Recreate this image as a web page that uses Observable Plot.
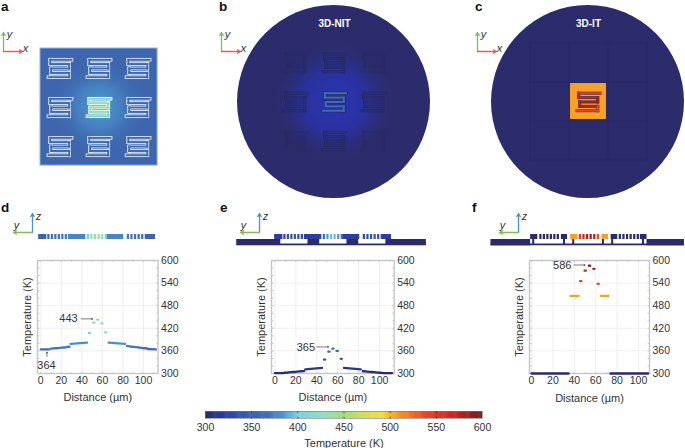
<!DOCTYPE html>
<html><head><meta charset="utf-8">
<script src="https://cdn.jsdelivr.net/npm/d3@7"></script>
<script src="https://cdn.jsdelivr.net/npm/@observablehq/plot@0.6"></script>
<style>
html,body{margin:0;padding:0;background:#fff}
#page{position:relative;width:685px;height:448px;overflow:hidden;font-family:"Liberation Sans",Arial,sans-serif;color:#333}
#page svg{position:absolute;overflow:visible;background:transparent;max-width:none}
.letter{position:absolute;font-weight:bold;font-size:13.5px;line-height:.8;color:#111}
</style></head><body>
<svg width="0" height="0" style="position:absolute">
<defs>
<radialGradient id="glowA"><stop offset="0" stop-color="#4c9bd0"/><stop offset="0.45" stop-color="#4680bf"/><stop offset="1" stop-color="#3d66ae" stop-opacity="0"/></radialGradient>
<radialGradient id="glowB"><stop offset="0" stop-color="#2a34b0"/><stop offset="0.5" stop-color="#2a32a0"/><stop offset="1" stop-color="#2c2c6c" stop-opacity="0"/></radialGradient>
</defs></svg>
<div id="page"></div>
<script>
// ---- colour scale
const scaleT = [300,320,350,365,385,400,430,450,490,505,540,565,600];
const scaleC = ["#2b2a6b","#2b3ca0","#3a64ae","#3e6eb6","#4a9ad4","#7ed0e2","#8fe0c0","#a4dc78","#f0e040","#f8a422","#e8421f","#d4281e","#6e1f20"];

// ---- charts: dash extents (um) and temperatures (K)
const dX1 = [0,10,14,18,22,25.5,29,46.8,51,54.9,58.8,62.7,66,84,88,92,96,99.5,104];
const dX2 = [8.4,13,17,21,24.5,28,45,48,52.2,56.1,60,63.9,82,87,91,95,98.5,103,112];
const dT1 = [364,366,367,368,369,370.5,378.5,407.5,435,443,433,409,382,373,371,370,368.5,367,365];
const dT2 = [364,366.5,367.5,368.5,369.5,371,382,407.5,435,443,433,409,378.5,372,370.5,369.5,368,367,364];

const eX1 = [0,9,13,17,21,25,29,46.9,51,54.8,58.9,62.8,66,84,88,92,96,100,103];
const eX2 = [8,12,16,20,24,28,45,48.1,52.2,56,60.1,64,82,87,91,95,99,102.5,112];
const eT1 = [301,302,303,304,305,306,311,337,358,366,360,339,315,306,305,304,303,302,301];
const eT2 = [301,302.5,303.5,304.5,305.5,306.5,315,337,358,366,360,339,311,305.5,304.5,303.5,302.5,301.5,301];

const fX1 = [0,9,13,17,21,26,36.4,45.4,49.6,53.6,57.7,61.7,64.8,73.8,82,87,92,97,102];
const fX2 = [8,12,16,20,25,34.6,44,46.6,50.8,54.8,58.9,62.9,72,81,86,91,96,101,109];
const fT1 = [300,300,300,300,300,300,506,545,573,586,578,538,506,300,300,300,300,300,300];
const fT2 = fT1;

// ---- cross-section strips: bar and block extents (um), with temperatures (K)
const barCenters = [
  [10,13.4,16.8,20.2,23.6,27],
  [48.5,52,55.5,59,62.5,66],
  [87.5,91,94.5,98,101.5,105]
];
const dStripBlocks = [[0,8,352],[29,46,376],[67,83,376],[105,114,352]];
const dStripBars = [[362,364,365,367,368,370],[405,430,440,442,432,407],[370,368,367,365,364,362]];
const eStripBlocks = [[0,8,322],[29,46,322],[67,83,322],[105,114,322]];
const eStripBars = [[330,335,340,340,335,330],[365,385,395,395,385,365],[330,335,340,340,335,330]];
const fStripBlocks = [[0,7,300],[30,36,300],[39,46,506],[69.5,76,506],[78.5,85,300],[107,113.5,300]];
const fStripBars = [[300,300,300,300,300,300],[545,565,580,586,578,538],[300,300,300,300,300,300]];
const pedestals = [3,33,42,71,80,110];

// ---- heater serpentine (unit cell) and array pitch (um)
const serpX = [1,.08,.08,.9,.9,.12,.12,.9,.9,0];
const serpY = [.14,.14,.33,.33,.52,.52,.71,.71,.9,.9];
const cellSide = 22.4;
const pitch = 38;
const gridIdx = [-1,0,1];
const aRowT = [405,430,440,430,408];
const nitRowT = [365,365,365,365,365];
const itRowT = [545,572,586,577,538];

const colorOpt = {type:"linear",domain:scaleT,range:scaleC,interpolate:"rgb",clamp:true};
const page = document.getElementById("page");
const place = (el,left,top)=>{el.style.left=left+"px";el.style.top=top+"px";page.appendChild(el);return el};

function serp(cx,cy,temps){
  const out=[];
  for(let i=0;i<serpX.length-1;i++){
    const T=temps[Math.floor((i+1)/2)];
    out.push({x1:cx+cellSide*(serpX[i]-.5),x2:cx+cellSide*(serpX[i+1]-.5),
      y1:cy+cellSide*(.5-serpY[i]),y2:cy+cellSide*(.5-serpY[i+1]),T});
  }
  return out;
}
const neighbours = gridIdx.flatMap(i=>gridIdx.map(j=>[i,j])).filter(([i,j])=>i||j);
const linkOpt = (extra)=>({x1:"x1",x2:"x2",y1:"y1",y2:"y2",strokeLinecap:"square",...extra});

function topPlot(left,top,size,marks){
  const half=size/2/1.027;
  return place(Plot.plot({width:size,height:size,margin:0,
    x:{axis:null,domain:[-half,half]},y:{axis:null,domain:[-half,half]},
    color:colorOpt,marks}),left,top);
}

// panel a
(function(){
  const half=57;
  const segN=neighbours.flatMap(([i,j])=>serp(i*pitch,j*pitch,[358,358,358,358,358]));
  const segC=serp(0,0,aRowT);
  topPlot(39.5,48,117.1,[
    Plot.rect([{}],{x1:-half,x2:half,y1:-half,y2:half,fill:"#3d66ae",stroke:"#8cb0de",strokeWidth:1}),
    Plot.dot([{}],{x:0,y:0,r:48,fill:"url(#glowA)",stroke:"none"}),
    Plot.link(segN.concat(segC),linkOpt({stroke:"white",strokeWidth:3.6})),
    Plot.link(segN,linkOpt({stroke:"T",strokeWidth:2.1})),
    Plot.link(segC,linkOpt({stroke:"T",strokeWidth:2.1}))
  ]);
})();

// panel b
(function(){
  const near=neighbours.filter(([i,j])=>!(i&&j)).flatMap(([i,j])=>serp(i*pitch,j*pitch,[312,312,312,312,312]));
  const far=neighbours.filter(([i,j])=>i&&j).flatMap(([i,j])=>serp(i*pitch,j*pitch,[305,305,305,305,305]));
  const centre=serp(0,0,nitRowT);
  topPlot(234,1,200,[
    Plot.dot([{}],{x:0,y:0,r:96.5,dx:-1,fill:"#2c2c6c",stroke:"none"}),
    Plot.dot([{}],{x:0,y:0,r:62,fill:"url(#glowB)",stroke:"none"}),
    Plot.link(far,linkOpt({stroke:"#25265c",strokeOpacity:.25,strokeWidth:3.2})),
    Plot.link(near,linkOpt({stroke:"#25265c",strokeOpacity:.6,strokeWidth:3.2})),
    Plot.link(near,linkOpt({stroke:"T",strokeOpacity:.4,strokeWidth:1.5})),
    Plot.link(centre,linkOpt({stroke:"#262a6a",strokeWidth:3.4})),
    Plot.link(centre,linkOpt({stroke:"T",strokeWidth:2})),
    Plot.text(["3D-NIT"],{x:0,y:76,text:d=>d,fill:"white",fontWeight:"bold",fontSize:10,fontFamily:"Liberation Sans"})
  ]);
})();

// panel c
(function(){
  const centre=serp(0,0,itRowT);
  const lines=[-57,-19,19,57];
  topPlot(488,1,200,[
    Plot.dot([{}],{x:0,y:0,r:96.5,dx:-1,fill:"#2c2c6c",stroke:"none"}),
    Plot.ruleX(lines,{y1:-57,y2:57,stroke:"#25265c",strokeOpacity:.35,strokeWidth:.8}),
    Plot.ruleY(lines,{x1:-57,x2:57,stroke:"#25265c",strokeOpacity:.35,strokeWidth:.8}),
    Plot.rect([{}],{x1:-17.5,x2:17.5,y1:-17.5,y2:17.5,fill:506}),
    Plot.link(centre,linkOpt({stroke:"#3b3358",strokeWidth:3})),
    Plot.link(centre,linkOpt({stroke:"T",strokeWidth:2})),
    Plot.text(["3D-IT"],{x:0,y:76,text:d=>d,fill:"white",fontWeight:"bold",fontSize:10,fontFamily:"Liberation Sans"})
  ]);
})();

// coordinate triads
function triad(left,top,hName,hColor,hSign,hLabelOff,vLabelOff){
  const hc=hColor, vc=hName==="x"?"#86b95a":"#4e8ed0", vName=hName==="x"?"y":"z";
  place(Plot.plot({width:60,height:40,margin:0,
    x:{axis:null,domain:[-30,30]},y:{axis:null,domain:[-10,30]},
    marks:[
      Plot.arrow([{}],{x1:0,y1:0,x2:0,y2:19,stroke:vc,strokeWidth:1.3,bend:0,headLength:4}),
      Plot.arrow([{}],{x1:0,y1:0,x2:hSign*19,y2:0,stroke:hc,strokeWidth:1.3,bend:0,headLength:4}),
      Plot.text([vName],{x:vLabelOff[0],y:vLabelOff[1],text:d=>d,fontStyle:"italic",fontSize:11,fill:"#333",fontFamily:"Liberation Sans"}),
      Plot.text([hName],{x:hLabelOff[0],y:hLabelOff[1],text:d=>d,fontStyle:"italic",fontSize:11,fill:"#333",fontFamily:"Liberation Sans"})
    ]}),left-30,top-30);
}
triad(3,51,"x","#e4614f",1,[22,3],[6,17]);
triad(221,51,"x","#e4614f",1,[22,3],[6,17]);
triad(477,51,"x","#e4614f",1,[22,3],[6,17]);
triad(32,232,"y","#86b95a",-1,[-16,7],[6,16]);
triad(259,232,"y","#86b95a",-1,[-16,7],[6,16]);
triad(518,232,"y","#86b95a",-1,[-16,7],[6,16]);

// strips
function strip(origin,blocks,bars,marks0,marks1){
  const bar=barCenters.flatMap((c,i)=>c.map((x,k)=>({x,T:bars[i][k]})));
  place(Plot.plot({width:202,height:16,margin:0,
    x:{axis:null,domain:[-45,152]},y:{axis:null,domain:[0,16]},color:colorOpt,
    marks:[...marks0,
      Plot.rect(bar,{x1:d=>d.x-1.1,x2:d=>d.x+1.1,y1:9,y2:14,fill:"T"}),
      Plot.rect(blocks,{x1:"0",x2:"1",y1:9,y2:14,fill:"2"}),
      ...marks1]}),origin-45*202/197,232);
}
strip(38.3,dStripBlocks,dStripBars,[],[]);
strip(274,eStripBlocks,eStripBars,[
  Plot.rect([{}],{x1:-37,x2:148,y1:2.7,y2:9,fill:"#2b2a6b"}),
  Plot.rect([6,44,82],{x1:d=>d,x2:d=>d+26.5,y1:4.5,y2:9,fill:"white"})
],[]);
strip(530,fStripBlocks,fStripBars,[
  Plot.rect([{}],{x1:-38.7,x2:150,y1:2.7,y2:4.5,fill:"#2b2a6b"}),
  Plot.rect([{}],{x1:-38.7,x2:0,y1:2.7,y2:9,fill:"#2b2a6b"}),
  Plot.rect([{}],{x1:113.5,x2:150,y1:2.7,y2:9,fill:"#2b2a6b"}),
  Plot.rect(pedestals,{x1:d=>d-1,x2:d=>d+1,y1:4,y2:9,fill:"#2b2a6b"})
],[]);

// charts
function chart(boxL,boxR,xDomain,X1,X2,T1,T2,extra){
  const rows=X1.map((x,i)=>({x1:x,x2:X2[i],y1:T1[i],y2:T2[i],T:(T1[i]+T2[i])/2}));
  const ml=28,mr=30,mt=8,mb=32,h=113;
  const font="Liberation Sans";
  const pxPerUm=(boxR-boxL)/(xDomain[1]-xDomain[0]);
  const tickLen=2/pxPerUm;
  const el=Plot.plot({width:boxR-boxL+ml+mr,height:h+mt+mb,
    marginLeft:ml,marginRight:mr,marginTop:mt,marginBottom:mb,
    style:{fontFamily:font,fontSize:"10.5px",color:"#333"},
    x:{domain:xDomain,label:null},y:{domain:[300,600],label:null},color:colorOpt,
    marks:[
      Plot.gridX(d3.range(0,101,20),{stroke:"#e6e6e6",strokeOpacity:1,strokeWidth:.6}),
      Plot.gridY([360,420,480,540],{stroke:"#e6e6e6",strokeOpacity:1,strokeWidth:.6}),
      Plot.axisX({anchor:"bottom",ticks:d3.range(0,101,20),tickSize:0,tickPadding:3,label:null,fontSize:10.5}),
      Plot.axisY({anchor:"right",ticks:d3.range(300,601,60),tickSize:0,tickPadding:3,label:null,fontSize:10.5}),
      Plot.link(d3.range(0,111,10),{x1:d=>d,x2:d=>d,y1:300,y2:304,stroke:"#aaa",strokeWidth:.6}),
      Plot.link(d3.range(0,111,10),{x1:d=>d,x2:d=>d,y1:596,y2:600,stroke:"#aaa",strokeWidth:.6}),
      Plot.link(d3.range(300,601,20),{x1:xDomain[0],x2:xDomain[0]+tickLen,y1:d=>d,y2:d=>d,stroke:"#aaa",strokeWidth:.6}),
      Plot.link(d3.range(300,601,20),{x1:xDomain[1]-tickLen,x2:xDomain[1],y1:d=>d,y2:d=>d,stroke:"#aaa",strokeWidth:.6}),
      Plot.frame({stroke:"#c6c6c6",strokeWidth:1.4}),
      Plot.link(rows,{x1:"x1",x2:"x2",y1:"y1",y2:"y2",stroke:"T",strokeWidth:2.3,strokeLinecap:"round"}),
      ...extra,
      Plot.text(["Temperature (K)"],{x:xDomain[0]-10.5/pxPerUm,y:450,rotate:-90,text:d=>d,fontSize:11,fill:"#333",fontFamily:font}),
      Plot.text(["Distance (\u00b5m)"],{frameAnchor:"bottom",dy:28,text:d=>d,fontSize:11,fill:"#333",fontFamily:font})
    ]});
  place(el,boxL-ml,260-mt);
}
const note=(label,tx,ty,ax1,ax2,ay1,ay2)=>[
  Plot.text([label],{x:tx,y:ty,text:d=>d,fontSize:11,fill:"#333",fontFamily:"Liberation Sans"}),
  Plot.arrow([{}],{x1:ax1,x2:ax2,y1:ay1,y2:ay2,stroke:"#222",strokeWidth:.6,bend:0,headLength:3})
];
chart(36.7,157.3,[-3.2,114.2],dX1,dX2,dT1,dT2,[
  ...note("443",27,445.5,39.3,50.6,445,445),
  ...note("364",5.5,320,6,6,345,357)
]);
chart(271.3,394,[-3.3,114],eX1,eX2,eT1,eT2,note("365",29.6,369,40,51.3,370.5,370.5));
chart(528.7,648.7,[-1.9,110.3],fX1,fX2,fT1,fT2,note("586",28.7,587,39.6,50,588,588));

// colour bar
(function(){
  const steps=d3.range(300,600,1);
  const el=Plot.plot({width:277+40,height:7+36,marginLeft:20,marginRight:20,marginTop:0,marginBottom:36,
    style:{fontFamily:"Liberation Sans",fontSize:"10.5px",color:"#333"},
    x:{domain:[300,600],label:null},y:{domain:[0,1],axis:null},color:colorOpt,
    marks:[
      Plot.rect(steps,{x1:d=>d,x2:d=>Math.min(d+1.6,600),y1:0,y2:1,fill:d=>d}),
      Plot.frame({stroke:"#777",strokeWidth:.6}),
      Plot.link([350,400,450,500,550],{x1:d=>d,x2:d=>d,y1:0,y2:.25,stroke:"#222",strokeWidth:.7}),
      Plot.link([350,400,450,500,550],{x1:d=>d,x2:d=>d,y1:.75,y2:1,stroke:"#222",strokeWidth:.7}),
      Plot.axisX({anchor:"bottom",ticks:[300,350,400,450,500,550,600],tickSize:0,tickPadding:5,label:null,fontSize:10.5}),
      Plot.text(["Temperature (K)"],{frameAnchor:"bottom",dy:28,text:d=>d,fontSize:11,fill:"#333",fontFamily:"Liberation Sans"})
    ]});
  place(el,205-20,411);
})();

// panel letters
[["a",1],["b",219],["c",475]].forEach(([t,x])=>{const d=document.createElement("div");d.className="letter";d.textContent=t;place(d,x,2.2)});
[["d",1],["e",220],["f",472]].forEach(([t,x])=>{const d=document.createElement("div");d.className="letter";d.textContent=t;place(d,x,203)});
</script>
</body></html>
